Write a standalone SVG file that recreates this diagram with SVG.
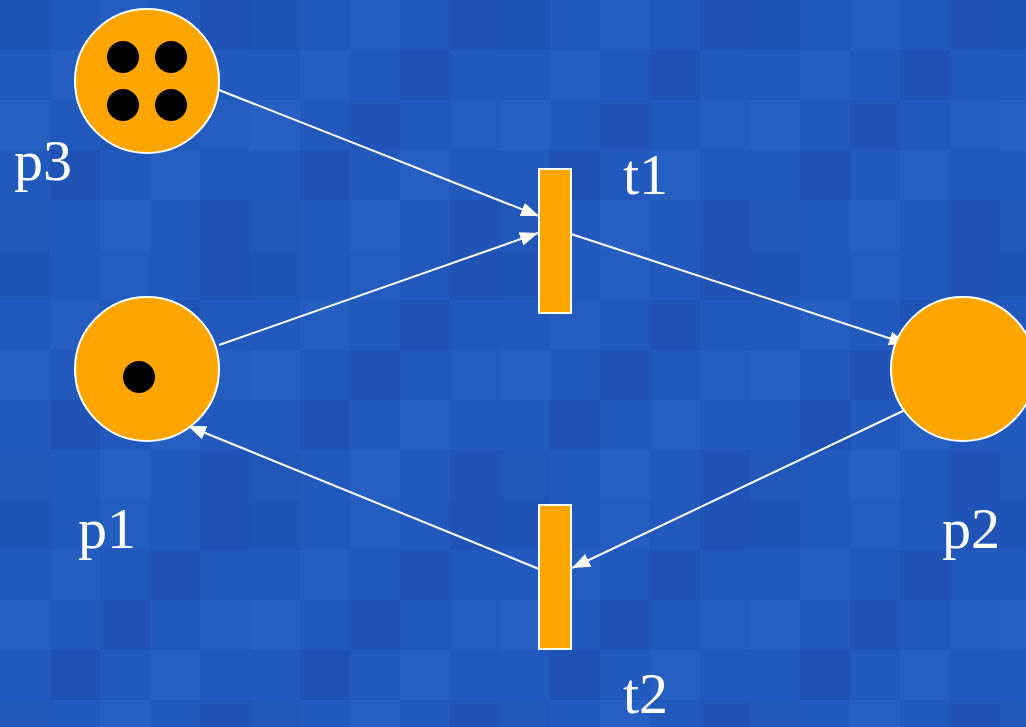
<svg xmlns="http://www.w3.org/2000/svg" width="1026" height="727" viewBox="0 0 1026 727">
<style>
.place{fill:#ffa500;stroke:#ffffff;stroke-width:2}
.trans{fill:#ffa500;stroke:#ffffff;stroke-width:2}
.tok{fill:#000000}
.lbl{font-family:"Liberation Serif","Times New Roman",serif;font-size:58px;fill:#ffffff}
.arc{stroke:#ffffff;stroke-width:2;fill:none;marker-end:url(#ah)}
</style>
<defs>
<marker id="ah" viewBox="0 0 18 14" refX="18" refY="7" markerWidth="18" markerHeight="14" markerUnits="userSpaceOnUse" orient="auto">
<path d="M0,0 L18,7 L0,14 Z" fill="#ffffff"/>
</marker>
<pattern id="mosaic" x="0" y="0" width="250" height="250" patternUnits="userSpaceOnUse">
<rect width="250" height="250" fill="#2259bc"/>
<rect x="0" y="0" width="50" height="50" fill="#2055b8"/>
<rect x="100" y="0" width="50" height="50" fill="#245dc0"/>
<rect x="200" y="0" width="50" height="50" fill="#1f54b6"/>
<rect x="50" y="50" width="50" height="50" fill="#255ec1"/>
<rect x="150" y="50" width="50" height="50" fill="#1f53b5"/>
<rect x="0" y="100" width="50" height="50" fill="#2660c2"/>
<rect x="100" y="100" width="50" height="50" fill="#2055b7"/>
<rect x="200" y="100" width="50" height="50" fill="#245cbf"/>
<rect x="50" y="150" width="50" height="50" fill="#1e52b4"/>
<rect x="150" y="150" width="50" height="50" fill="#255fc1"/>
<rect x="0" y="200" width="50" height="50" fill="#2157b9"/>
<rect x="100" y="200" width="50" height="50" fill="#2660c2"/>
<rect x="200" y="200" width="50" height="50" fill="#2054b6"/>
</pattern>
</defs>
<rect width="1026" height="727" fill="url(#mosaic)"/>
<g id="connectors">
<line class="arc" x1="219" y1="90" x2="539" y2="216"/>
<line class="arc" x1="219" y1="345" x2="538" y2="233"/>
<line class="arc" x1="571" y1="234" x2="907" y2="344"/>
<line class="arc" x1="905" y1="410" x2="572" y2="568"/>
<line class="arc" x1="539" y1="569" x2="188" y2="426"/>
</g>
<g id="p3">
<circle class="place" cx="147" cy="81" r="72"/>
<circle class="tok" cx="123" cy="57" r="16"/>
<circle class="tok" cx="171" cy="57" r="16"/>
<circle class="tok" cx="123" cy="105" r="16"/>
<circle class="tok" cx="171" cy="105" r="16"/>
<text class="lbl" x="14" y="180">p3</text>
</g>
<g id="p1">
<circle class="place" cx="147" cy="369" r="72"/>
<circle class="tok" cx="139" cy="377" r="16"/>
<text class="lbl" x="78" y="548">p1</text>
</g>
<g id="p2">
<circle class="place" cx="963" cy="369" r="72"/>
<text class="lbl" x="942" y="548">p2</text>
</g>
<g id="t1">
<rect class="trans" x="539" y="169" width="32" height="144"/>
<text class="lbl" x="623" y="194">t1</text>
</g>
<g id="t2">
<rect class="trans" x="539" y="505" width="32" height="144"/>
<text class="lbl" x="623" y="713">t2</text>
</g>
</svg>
